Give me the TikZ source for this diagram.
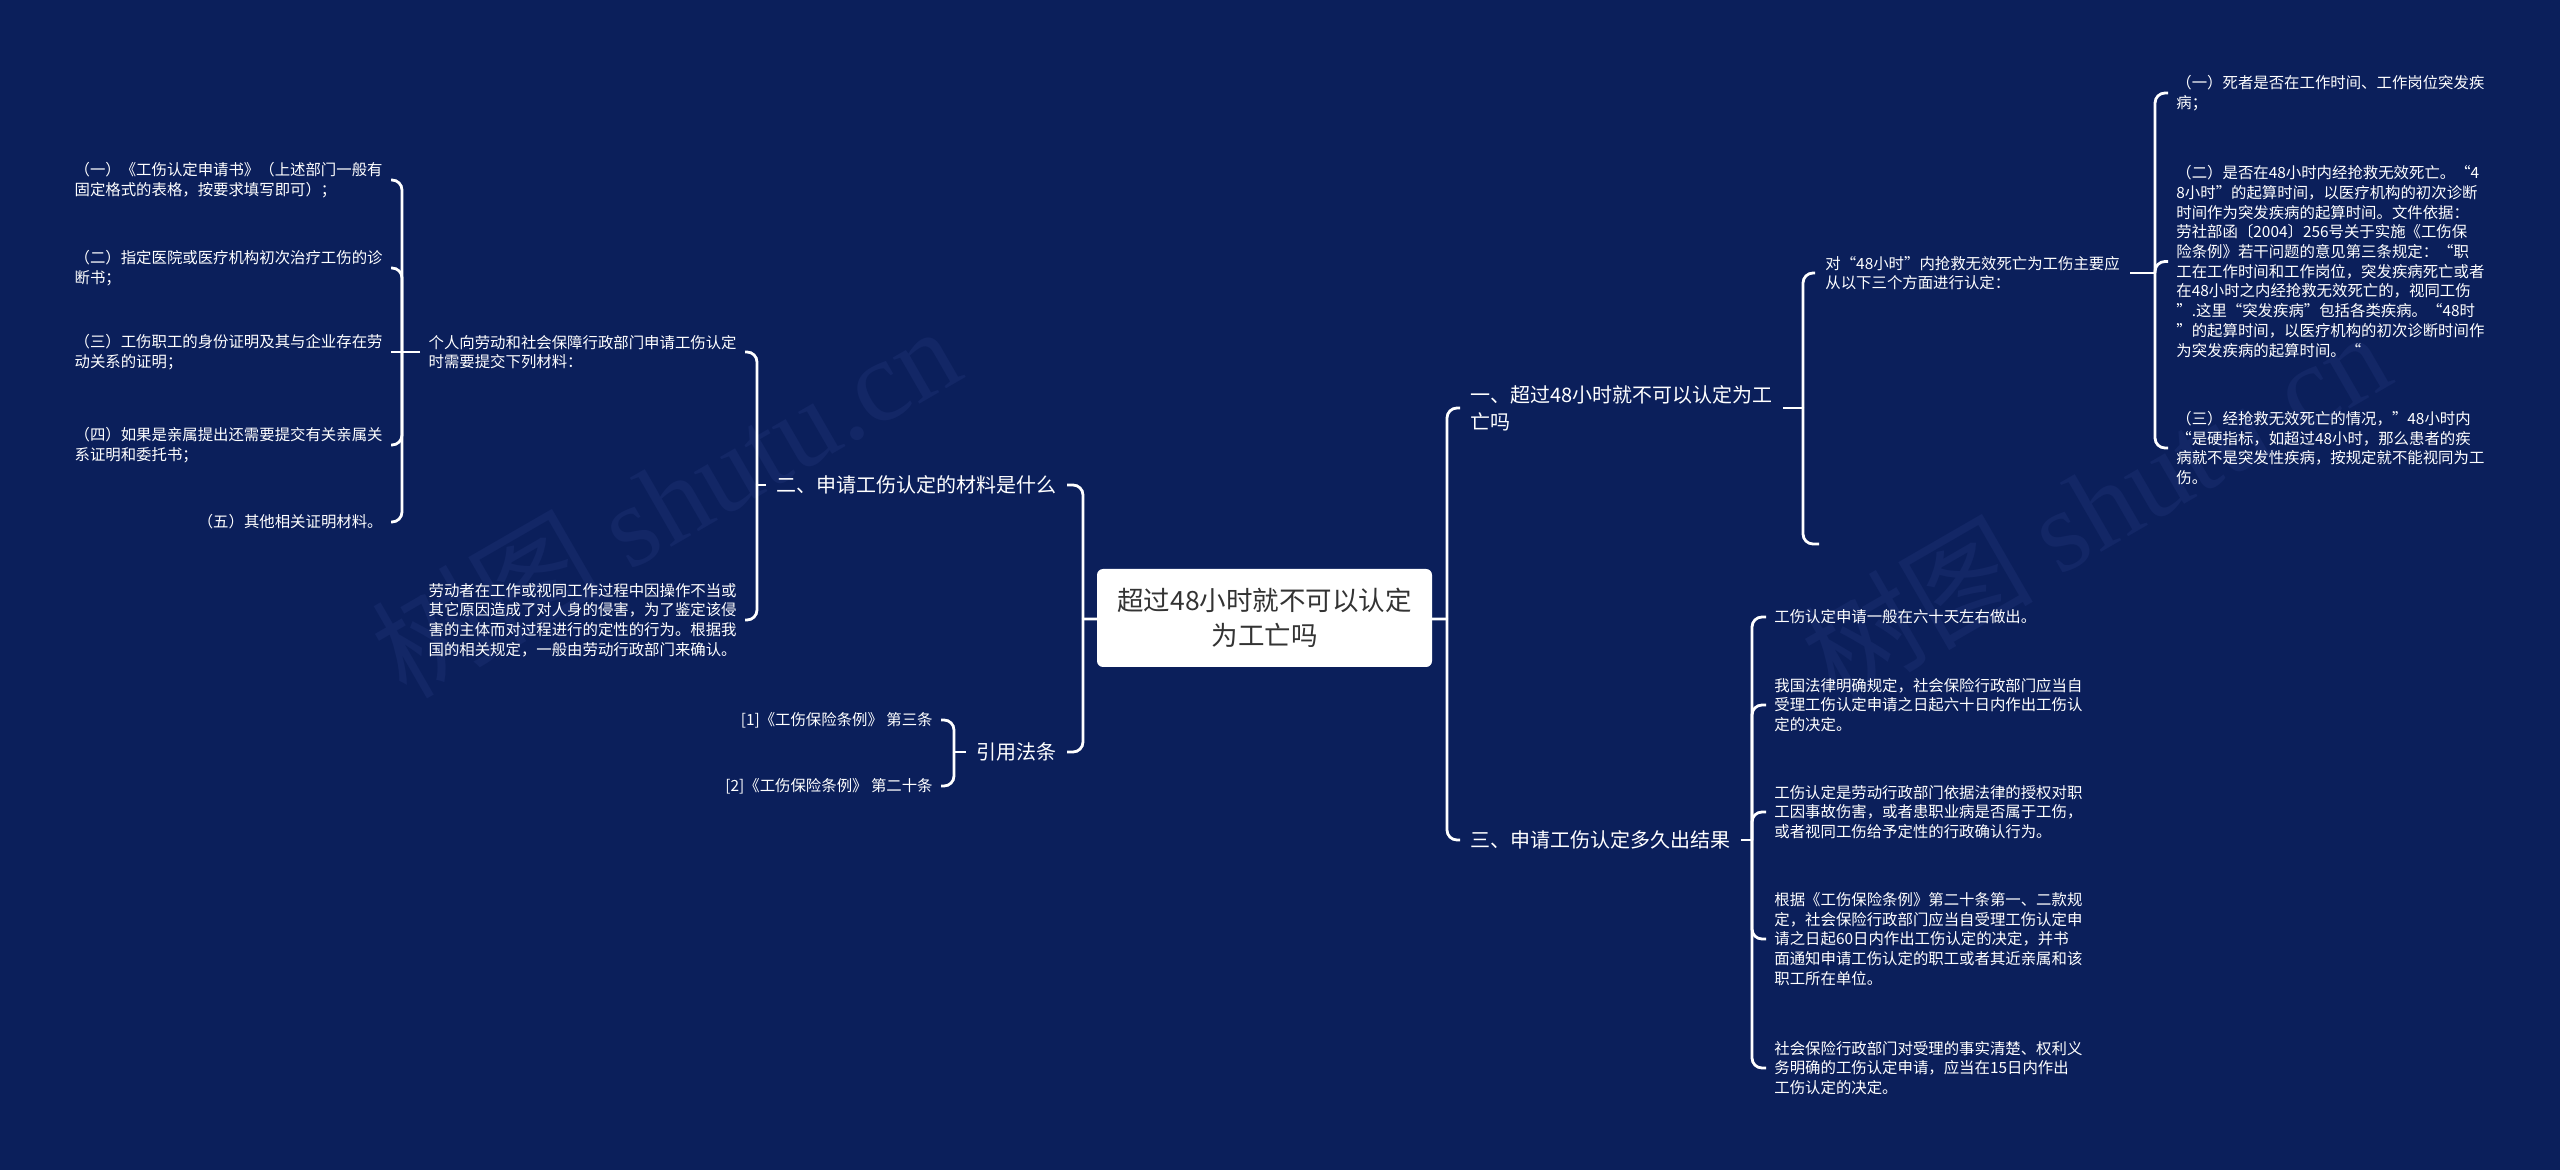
\documentclass[tikz,border=0pt]{standalone}
\usepackage{fontspec}
\setmainfont{Noto Sans CJK SC}
\newfontfamily\wmserif{Liberation Serif}
\usetikzlibrary{calc}
\definecolor{bgnavy}{HTML}{0B1F5B}
\definecolor{wmcol}{HTML}{132766}
\definecolor{roottext}{HTML}{333333}
\pgfdeclarelayer{bgl}
\pgfdeclarelayer{edg}
\pgfsetlayers{bgl,edg,main}
\tikzset{
  conn/.style={draw=white, line width=1.4pt, rounded corners=5pt},
  leaf/.style={text=white, font=\fontsize{7.7pt}{9.85pt}\selectfont, align=left, inner xsep=4pt, inner ysep=2pt},
  headnode/.style={text=white, font=\fontsize{10pt}{13.5pt}\selectfont, align=left, inner xsep=5pt, inner ysep=2pt},
  rootnode/.style={fill=white, rounded corners=3pt, text=roottext, font=\fontsize{13.25pt}{17.5pt}\selectfont, align=center, minimum width=167.5pt, minimum height=49pt, inner sep=0pt},
  wmark/.style={text=wmcol, rotate=30, font=\fontsize{58pt}{58pt}\selectfont}
}
\begin{document}
\begin{tikzpicture}[x=0.5pt, y=-0.5pt]
\begin{pgfonlayer}{bgl}
\fill[bgnavy] (0,0) rectangle (2560,1170);
\node[wmark] (wm1) at (665,500) {树图 {\wmserif shutu.cn}};
\node[wmark] (wm2) at (2095,505) {树图 {\wmserif shutu.cn}};
\end{pgfonlayer}
\useasboundingbox (0,0) rectangle (2560,1170);

% root
\node[rootnode] (root) at (1264.5,618) {超过48小时就不可以认定\\为工亡吗};

% level 1
\node[headnode, anchor=west] (n1) at (1460,408) {一、超过48小时就不可以认定为工\\亡吗};
\node[headnode, anchor=east] (n2) at (1067,485) {二、申请工伤认定的材料是什么};
\node[headnode, anchor=east] (n3) at (1067,752) {引用法条};
\node[headnode, anchor=west] (n4) at (1460,840) {三、申请工伤认定多久出结果};

% branch one
\node[leaf, anchor=west, inner xsep=5pt] (a1) at (1815,273) {对“48小时”内抢救无效死亡为工伤主要应\\从以下三个方面进行认定：};
\coordinate (a2) at (1819,544);
\node[leaf, anchor=west] (l1) at (2168,93) {（一）死者是否在工作时间、工作岗位突发疾\\病；};
\node[leaf, anchor=west] (l2) at (2168,261.5) {（二）是否在48小时内经抢救无效死亡。“4\\8小时”的起算时间，以医疗机构的初次诊断\\时间作为突发疾病的起算时间。文件依据：\\劳社部函〔2004〕256号关于实施《工伤保\\险条例》若干问题的意见第三条规定：“职\\工在工作时间和工作岗位，突发疾病死亡或者\\在48小时之内经抢救无效死亡的，视同工伤\\”.这里“突发疾病”包括各类疾病。“48时\\”的起算时间，以医疗机构的初次诊断时间作\\为突发疾病的起算时间。“};
\node[leaf, anchor=west] (l3) at (2168,448) {（三）经抢救无效死亡的情况，”48小时内\\“是硬指标，如超过48小时，那么患者的疾\\病就不是突发性疾病，按规定就不能视同为工\\伤。};

% branch two
\node[leaf, anchor=east] (b1) at (745,352) {个人向劳动和社会保障行政部门申请工伤认定\\时需要提交下列材料：};
\node[leaf, anchor=east] (b2) at (745,620) {劳动者在工作或视同工作过程中因操作不当或\\其它原因造成了对人身的侵害，为了鉴定该侵\\害的主体而对过程进行的定性的行为。根据我\\国的相关规定，一般由劳动行政部门来确认。};
\node[leaf, anchor=east] (c1) at (391,180) {（一）《工伤认定申请书》（上述部门一般有\\固定格式的表格，按要求填写即可）；};
\node[leaf, anchor=east] (c2) at (391,268) {（二）指定医院或医疗机构初次治疗工伤的诊\\断书；};
\node[leaf, anchor=east] (c3) at (391,352) {（三）工伤职工的身份证明及其与企业存在劳\\动关系的证明；};
\node[leaf, anchor=east] (c4) at (391,445) {（四）如果是亲属提出还需要提交有关亲属关\\系证明和委托书；};
\node[leaf, anchor=east] (c5) at (391,522) {（五）其他相关证明材料。};

% branch cite
\node[leaf, anchor=east] (d1) at (941,720) {[1]《工伤保险条例》 第三条};
\node[leaf, anchor=east] (d2) at (941,786) {[2]《工伤保险条例》 第二十条};

% branch three
\node[leaf, anchor=west] (e1) at (1766,617) {工伤认定申请一般在六十天左右做出。};
\node[leaf, anchor=west] (e2) at (1766,705) {我国法律明确规定，社会保险行政部门应当自\\受理工伤认定申请之日起六十日内作出工伤认\\定的决定。};
\node[leaf, anchor=west] (e3) at (1766,812) {工伤认定是劳动行政部门依据法律的授权对职\\工因事故伤害，或者患职业病是否属于工伤，\\或者视同工伤给予定性的行政确认行为。};
\node[leaf, anchor=west] (e4) at (1766,939) {根据《工伤保险条例》第二十条第一、二款规\\定，社会保险行政部门应当自受理工伤认定申\\请之日起60日内作出工伤认定的决定，并书\\面通知申请工伤认定的职工或者其近亲属和该\\职工所在单位。};
\node[leaf, anchor=west] (e5) at (1766,1068) {社会保险行政部门对受理的事实清楚、权利义\\务明确的工伤认定申请，应当在15日内作出\\工伤认定的决定。};

% connectors
\begin{pgfonlayer}{edg}
\coordinate (jL) at (1083,619);
\coordinate (jR) at (1447,619);
\draw[conn] (root.center) -- (jL);
\draw[conn] (root.center) -- (jR);
\draw[conn] (jL) |- (n2.east);
\draw[conn] (jL) |- (n3.east);
\draw[conn] (jR) |- (n1.west);
\draw[conn] (jR) |- (n4.west);

\coordinate (j1) at (1803,408);
\draw[conn] (n1.east) -- (j1);
\draw[conn] (j1) |- (a1.west);
\draw[conn] (j1) |- (a2);

\coordinate (j2) at (2155,273);
\draw[conn] (a1.east) -- (j2);
\draw[conn] (j2) |- (l1.west);
\draw[conn] (j2) |- (l2.west);
\draw[conn] (j2) |- (l3.west);

\coordinate (j3) at (757,485);
\draw[conn] (n2.west) -- (j3);
\draw[conn] (j3) |- (b1.east);
\draw[conn] (j3) |- (b2.east);

\coordinate (j4) at (402,352);
\draw[conn] (b1.west) -- (j4);
\draw[conn] (j4) |- (c1.east);
\draw[conn] (j4) |- (c2.east);
\draw[conn] (j4) -- (c3.east);
\draw[conn] (j4) |- (c4.east);
\draw[conn] (j4) |- (c5.east);

\coordinate (j5) at (954,752);
\draw[conn] (n3.west) -- (j5);
\draw[conn] (j5) |- (d1.east);
\draw[conn] (j5) |- (d2.east);

\coordinate (j6) at (1752,840);
\draw[conn] (n4.east) -- (j6);
\draw[conn] (j6) |- (e1.west);
\draw[conn] (j6) |- (e2.west);
\draw[conn] (j6) |- (e3.west);
\draw[conn] (j6) |- (e4.west);
\draw[conn] (j6) |- (e5.west);
\end{pgfonlayer}
\end{tikzpicture}
\end{document}
